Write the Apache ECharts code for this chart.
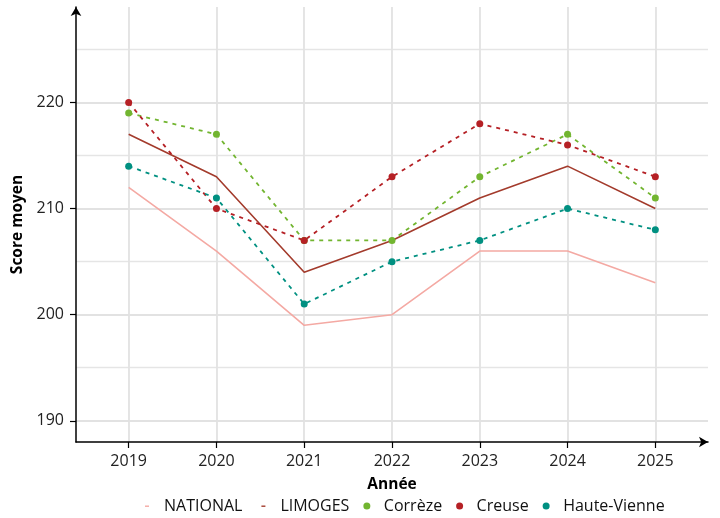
<!DOCTYPE html>
<html>
<head>
<meta charset="utf-8">
<script src="https://cdn.jsdelivr.net/npm/echarts@6/dist/echarts.min.js"></script>
<style>html,body{margin:0;padding:0;background:#fff}#c{width:720px;height:518px}</style>
</head>
<body>
<div id="c"></div>
<script>
const years = [2019, 2020, 2021, 2022, 2023, 2024, 2025];
const national = [212, 206, 199, 200, 206, 206, 203];
const limoges = [217, 213, 204, 207, 211, 214, 210];
const correze = [219, 217, 207, 207, 213, 217, 211];
const creuse = [220, 210, 207, 213, 218, 216, 213];
const hauteVienne = [214, 211, 201, 205, 207, 210, 208];

const FONT = 'Open Sans';
const pair = (vals) => years.map((y, i) => [y, vals[i]]);
const dashIcon = 'path://M0,0M14,7M5,3H9V4.4H5Z';

const chart = echarts.init(document.getElementById('c'), null, {renderer: 'canvas'});
chart.setOption({
  animation: false,
  backgroundColor: '#fff',
  grid: {left: 76, right: 12, top: 7, bottom: 76, containLabel: false},
  xAxis: {
    type: 'value', min: 2018.4, max: 2025.6, minInterval: 1, maxInterval: 1, splitNumber: 7,
    name: 'Année', nameLocation: 'middle', nameGap: 35,
    nameTextStyle: {fontFamily: FONT, fontWeight: 'bold', fontSize: 15.5, color: '#000'},
    axisLine: {show: true, lineStyle: {color: '#000', width: 1.5}, symbol: ['none', 'arrow'], symbolSize: [8, 9]},
    axisTick: {show: true, length: 6, lineStyle: {color: '#000', width: 1.2}},
    axisLabel: {showMinLabel: false, showMaxLabel: false, margin: 11, fontFamily: FONT, fontSize: 16, color: '#222',
      formatter: v => Number.isInteger(v) ? String(v) : ''},
    splitLine: {show: true, showMinLine: false, showMaxLine: false, lineStyle: {color: '#e2e2e2', width: 1.8}}
  },
  yAxis: {
    type: 'value', min: 188, max: 229, minInterval: 10, maxInterval: 10, splitNumber: 4,
    name: 'Score moyen', nameLocation: 'middle', nameGap: 48,
    nameTextStyle: {fontFamily: FONT, fontWeight: 'bold', fontSize: 15.5, color: '#000'},
    axisLine: {show: true, lineStyle: {color: '#000', width: 1.5}, symbol: ['none', 'arrow'], symbolSize: [8, 9]},
    axisTick: {show: true, length: 6, lineStyle: {color: '#000', width: 1.2}},
    axisLabel: {showMinLabel: false, showMaxLabel: false, margin: 12, fontFamily: FONT, fontSize: 16, color: '#222'},
    splitLine: {show: true, showMinLine: false, showMaxLine: false, lineStyle: {color: '#e2e2e2', width: 1.8}},
    minorTick: {show: false, splitNumber: 2},
    minorSplitLine: {show: true, lineStyle: {color: '#e5e5e5', width: 1.3}}
  },
  legend: {
    left: 135, top: 493, itemWidth: 14, itemHeight: 7, itemGap: 14,
    textStyle: {fontFamily: FONT, fontSize: 16, color: '#111', padding: [0, 0, 0, 5]},
    data: [
      {name: 'NATIONAL', icon: dashIcon},
      {name: 'LIMOGES', icon: dashIcon},
      {name: 'Corrèze', icon: 'circle'},
      {name: 'Creuse', icon: 'circle'},
      {name: 'Haute-Vienne', icon: 'circle'}
    ]
  },
  series: [
    {name: 'NATIONAL', type: 'line', data: pair(national), showSymbol: false, symbol: 'none',
      color: '#f4a9a3', lineStyle: {color: '#f4a9a3', width: 1.6}},
    {name: 'LIMOGES', type: 'line', data: pair(limoges), showSymbol: false, symbol: 'none',
      color: '#a33b2c', lineStyle: {color: '#a33b2c', width: 1.6}},
    {name: 'Corrèze', type: 'line', data: pair(correze), symbol: 'circle', symbolSize: 7,
      color: '#72b530', itemStyle: {color: '#72b530'}, lineStyle: {color: '#72b530', width: 1.8, type: [4, 5]}},
    {name: 'Creuse', type: 'line', data: pair(creuse), symbol: 'circle', symbolSize: 7,
      color: '#b52025', itemStyle: {color: '#b52025'}, lineStyle: {color: '#b52025', width: 1.8, type: [4, 5]}},
    {name: 'Haute-Vienne', type: 'line', data: pair(hauteVienne), symbol: 'circle', symbolSize: 7,
      color: '#009081', itemStyle: {color: '#009081'}, lineStyle: {color: '#009081', width: 1.8, type: [4, 5]}}
  ]
});
</script>
</body>
</html>
